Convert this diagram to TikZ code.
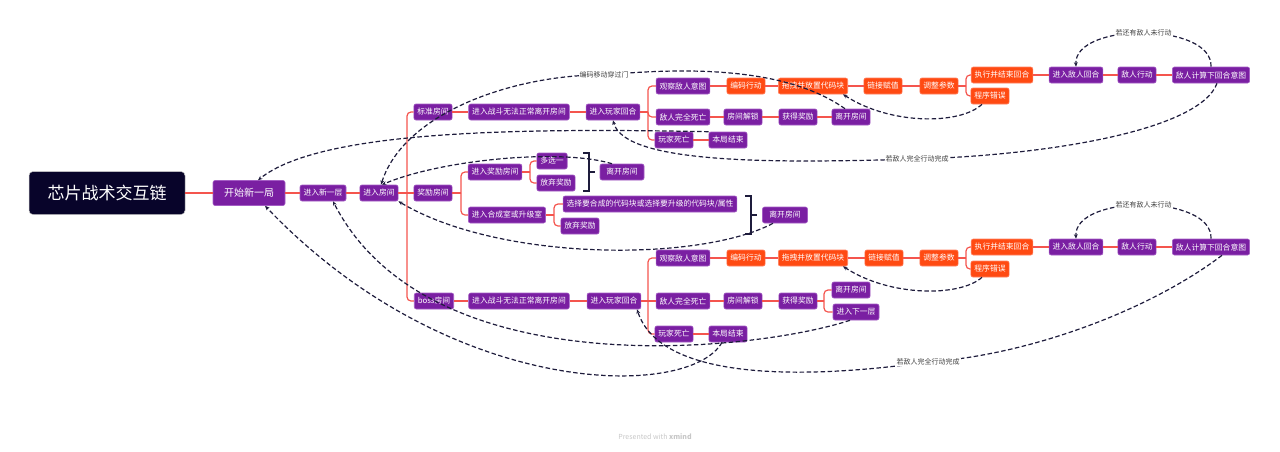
\documentclass[tikz,border=0pt]{standalone}
\usepackage{fontspec}
\setmainfont{Noto Sans CJK SC}
\usepackage{tikz}
\usetikzlibrary{arrows.meta}

\definecolor{topicpurple}{HTML}{7A1FA2}
\definecolor{topicedge}{HTML}{A45DC4}
\definecolor{actred}{HTML}{FF4A12}
\definecolor{actedge}{HTML}{FF8060}
\definecolor{rootblue}{HTML}{08042A}
\definecolor{branchred}{HTML}{F4554E}
\definecolor{flowink}{HTML}{1E1C3C}

\tikzset{
    topic/.style={draw=topicedge, fill=topicpurple, text=white, rounded corners=2pt, line width=0.6pt,
        minimum height=16pt, inner xsep=3.5pt, inner ysep=0pt, font=\fontsize{7.8}{8}\selectfont},
    act/.style={topic, draw=actedge, fill=actred},
    branch/.style={draw=branchred, line width=1.2pt, rounded corners=4pt},
    flow/.style={draw=flowink, line width=1.2pt, dash pattern=on 4.5pt off 2.5pt, -{Stealth[length=4.5pt,width=3.8pt]}},
    flowtag/.style={fill=white, text=black!75, inner sep=1pt, font=\fontsize{7}{7}\selectfont},
    brace/.style={draw=flowink, line width=1.2pt},
}

\begin{document}
\begin{tikzpicture}[x=1pt, y=-1pt]
        \useasboundingbox (0,0) rectangle (1280,451);

        \node[fill=rootblue, draw=gray!45, line width=0.5pt, text=white, rounded corners=4pt, minimum width=156pt,
            minimum height=43pt, font=\fontsize{17}{17}\selectfont] (root) at (107,193) {芯片战术交互链};
        \node[topic, minimum height=25pt, inner xsep=11pt, font=\fontsize{10}{10}\selectfont] (start) at (249,193) {开始新一局};
        \node[topic] (newfl) at (323,193) {进入新一层};
        \node[topic] (room) at (379,193) {进入房间};

        \node[topic] (std) at (433,112) {标准房间};
        \node[topic] (bonus) at (433,193) {奖励房间};
        \node[topic] (boss) at (434,301) {boss房间};

        \node[topic] (fight1) at (519,112) {进入战斗无法正常离开房间};
        \node[topic] (pturn1) at (613,112) {进入玩家回合};
        \node[topic] (watch1) at (683,86) {观察敌人意图};
        \node[act] (code1) at (746,86) {编码行动};
        \node[act] (drag1) at (813,86) {拖拽并放置代码块};
        \node[act] (link1) at (883,86) {链接赋值};
        \node[act] (tune1) at (939,86) {调整参数};
        \node[act] (exec1) at (1002,75) {执行并结束回合};
        \node[act] (err1) at (990,96) {程序错误};
        \node[topic] (eturn1) at (1076,75) {进入敌人回合};
        \node[topic] (eact1) at (1137,75) {敌人行动};
        \node[topic] (eplan1) at (1211,75) {敌人计算下回合意图};
        \node[topic] (kill1) at (683,117) {敌人完全死亡};
        \node[topic] (unlock1) at (743,117) {房间解锁};
        \node[topic] (loot1) at (798,117) {获得奖励};
        \node[topic] (leave1) at (851,117) {离开房间};
        \node[topic] (pdie1) at (674,140) {玩家死亡};
        \node[topic] (over1) at (728,140) {本局结束};

        \node[topic] (pickroom) at (495,172) {进入奖励房间};
        \node[topic] (pickone) at (552,161) {多选一};
        \node[topic] (skip1) at (556,183) {放弃奖励};
        \node[topic, minimum width=44pt] (leavea) at (622,172) {离开房间};
        \node[topic] (forge) at (507,215) {进入合成室或升级室};
        \node[topic] (choose) at (650,204) {选择要合成的代码块或选择要升级的代码块/属性};
        \node[topic] (skip2) at (580,226) {放弃奖励};
        \node[topic, minimum width=45pt] (leaveb) at (785,215) {离开房间};

        \node[topic] (fight2) at (519,301) {进入战斗无法正常离开房间};
        \node[topic] (pturn2) at (614,301) {进入玩家回合};
        \node[topic] (watch2) at (683,258) {观察敌人意图};
        \node[act] (code2) at (746,258) {编码行动};
        \node[act] (drag2) at (813,258) {拖拽并放置代码块};
        \node[act] (link2) at (884,258) {链接赋值};
        \node[act] (tune2) at (939,258) {调整参数};
        \node[act] (exec2) at (1002,247) {执行并结束回合};
        \node[act] (err2) at (990,269) {程序错误};
        \node[topic] (eturn2) at (1076,247) {进入敌人回合};
        \node[topic] (eact2) at (1137,247) {敌人行动};
        \node[topic] (eplan2) at (1211,247) {敌人计算下回合意图};
        \node[topic] (kill2) at (683,301) {敌人完全死亡};
        \node[topic] (unlock2) at (743,301) {房间解锁};
        \node[topic] (loot2) at (798,301) {获得奖励};
        \node[topic] (leave2) at (851,290) {离开房间};
        \node[topic] (nextfl) at (856,312) {进入下一层};
        \node[topic] (pdie2) at (674,334) {玩家死亡};
        \node[topic] (over2) at (728,334) {本局结束};

        \node[text=black!22, font=\fontsize{7}{7}\selectfont] (credit) at (655,437) {Presented with \textbf{xmind}};

        \coordinate (fork0) at (407,193);
        \coordinate (forka1) at (648,112);
        \coordinate (forkb1) at (966,86);
        \coordinate (forkc) at (461,193);
        \coordinate (forkd) at (530,172);
        \coordinate (forke) at (554,215);
        \coordinate (forka2) at (648,301);
        \coordinate (forkb2) at (966,258);
        \coordinate (forkf) at (824,301);

        \draw[branch] (root.east) -- (start.west);
        \draw[branch] (start.east) -- (newfl.west);
        \draw[branch] (newfl.east) -- (room.west);
        \draw[branch] (room.east) -- (fork0);
        \draw[branch] (fork0) |- (std.west);
        \draw[branch] (fork0) -- (bonus.west);
        \draw[branch] (fork0) |- (boss.west);

        \draw[branch] (std.east) -- (fight1.west);
        \draw[branch] (fight1.east) -- (pturn1.west);
        \draw[branch] (pturn1.east) -- (forka1);
        \draw[branch] (forka1) |- (watch1.west);
        \draw[branch] (forka1) |- (kill1.west);
        \draw[branch] (forka1) |- (pdie1.west);
        \draw[branch] (watch1.east) -- (code1.west);
        \draw[branch] (code1.east) -- (drag1.west);
        \draw[branch] (drag1.east) -- (link1.west);
        \draw[branch] (link1.east) -- (tune1.west);
        \draw[branch] (tune1.east) -- (forkb1);
        \draw[branch] (forkb1) |- (exec1.west);
        \draw[branch] (forkb1) |- (err1.west);
        \draw[branch] (exec1.east) -- (eturn1.west);
        \draw[branch] (eturn1.east) -- (eact1.west);
        \draw[branch] (eact1.east) -- (eplan1.west);
        \draw[branch] (kill1.east) -- (unlock1.west);
        \draw[branch] (unlock1.east) -- (loot1.west);
        \draw[branch] (loot1.east) -- (leave1.west);
        \draw[branch] (pdie1.east) -- (over1.west);

        \draw[branch] (bonus.east) -- (forkc);
        \draw[branch] (forkc) |- (pickroom.west);
        \draw[branch] (forkc) |- (forge.west);
        \draw[branch] (pickroom.east) -- (forkd);
        \draw[branch] (forkd) |- (pickone.west);
        \draw[branch] (forkd) |- (skip1.west);
        \draw[branch] (forge.east) -- (forke);
        \draw[branch] (forke) |- (choose.west);
        \draw[branch] (forke) |- (skip2.west);

        \draw[branch] (boss.east) -- (fight2.west);
        \draw[branch] (fight2.east) -- (pturn2.west);
        \draw[branch] (pturn2.east) -- (forka2);
        \draw[branch] (forka2) |- (watch2.west);
        \draw[branch] (forka2) -- (kill2.west);
        \draw[branch] (forka2) |- (pdie2.west);
        \draw[branch] (watch2.east) -- (code2.west);
        \draw[branch] (code2.east) -- (drag2.west);
        \draw[branch] (drag2.east) -- (link2.west);
        \draw[branch] (link2.east) -- (tune2.west);
        \draw[branch] (tune2.east) -- (forkb2);
        \draw[branch] (forkb2) |- (exec2.west);
        \draw[branch] (forkb2) |- (err2.west);
        \draw[branch] (exec2.east) -- (eturn2.west);
        \draw[branch] (eturn2.east) -- (eact2.west);
        \draw[branch] (eact2.east) -- (eplan2.west);
        \draw[branch] (kill2.east) -- (unlock2.west);
        \draw[branch] (unlock2.east) -- (loot2.west);
        \draw[branch] (loot2.east) -- (forkf);
        \draw[branch] (forkf) |- (leave2.west);
        \draw[branch] (forkf) |- (nextfl.west);
        \draw[branch] (pdie2.east) -- (over2.west);

        \coordinate (tipa) at (595,172);
        \coordinate (tipb) at (757,215);
        \draw[brace] (583,153) -- (589,153) -- (589,191) -- (583,191);
        \draw[brace] (589,172) -- (tipa);
        \draw[brace] (745,196) -- (751,196) -- (751,234) -- (745,234);
        \draw[brace] (751,215) -- (tipb);

        \draw[flow] (eplan1.north) .. controls (1213,22) and (1074,22) .. (eturn1.north) node[pos=0.5, flowtag] {若还有敌人未行动};
        \draw[flow] (eplan2.north) .. controls (1213,194) and (1074,194) .. (eturn2.north) node[pos=0.5, flowtag] {若还有敌人未行动};
        \draw[flow] ([xshift=-8pt]err1.south) .. controls (960,125) and (890,125) .. ([xshift=-5pt]drag1.south east);
        \draw[flow] ([xshift=-8pt]err2.south) .. controls (960,297) and (890,297) .. ([xshift=-5pt]drag2.south east);
        \draw[flow] ([xshift=-6pt]leave1.north) .. controls (790,70) and (700,66) .. (604,75) node[flowtag] {编码移动穿过门}
            .. controls (520,74) and (405,110) .. ([xshift=2pt]room.north);
        \draw[flow] ([xshift=6pt]eplan1.south) .. controls (1200,130) and (1050,155) .. (917,159) node[flowtag] {若敌人完全行动完成}
            .. controls (780,163) and (625,165) .. (pturn1.south);
        \draw[flow] (over1.north west) .. controls (520,128) and (320,130) .. ([xshift=9pt]start.north);
        \draw[flow] ([xshift=-10pt]leavea.north) .. controls (560,148) and (440,160) .. ([xshift=3pt]room.north);
        \draw[flow] ([xshift=-12pt]leaveb.south) .. controls (700,262) and (500,262) .. (room.south east);
        \draw[flow] ([xshift=-6pt]over2.south) .. controls (690,400) and (450,400) .. ([xshift=16pt]start.south);
        \draw[flow] ([xshift=-6pt]nextfl.south) .. controls (760,350) and (430,390) .. ([xshift=10pt]newfl.south);
        \draw[flow] ([xshift=11pt]eplan2.south) .. controls (1150,310) and (1030,355) .. (928,362) node[flowtag] {若敌人完全行动完成}
            .. controls (800,380) and (660,380) .. ([xshift=23pt]pturn2.south);
    \end{tikzpicture}
\end{document}
